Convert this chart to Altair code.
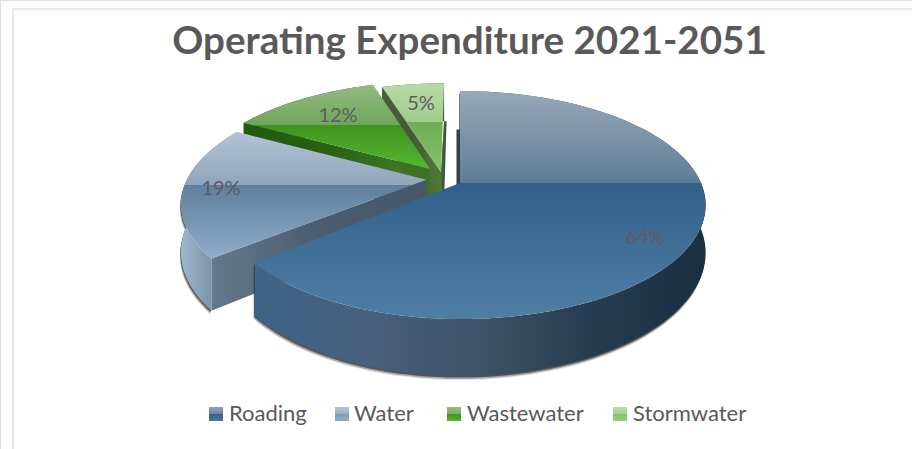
import math
import altair as alt
import pandas as pd

# Chart content
NAMES = ["Roading", "Water", "Wastewater", "Stormwater"]
SHARES = [64, 19, 12, 5]
TITLE = "Operating Expenditure 2021-2051"

# Perspective model of the tilted pie
APEX_X, APEX_Y = 460.0, 183.0
RX, RY = 241.0, 109.8
TILT = 0.193
DEPTH = 46.0
EXPLODE = {"Roading": (0.0, 0.0), "Water": (-0.14, -0.03),
           "Wastewater": (-0.127, -0.13), "Stormwater": (-0.08, -0.10)}
SQUEEZE = {"Roading": 0.97, "Water": 1.0, "Wastewater": 1.0, "Stormwater": 1.0}

# Top faces: upper stop pair / lower stop pair around the horizon line
TOP = {
    "Roading": ("#98a8ba", "#5f7d98", "#32608a", "#4f7ea5", 183),
    "Water": ("#b3c3d4", "#90a5bd", "#5f7f9c", "#8fadca", 185),
    "Wastewater": ("#93ba80", "#6ea65b", "#3f9420", "#57b630", 125),
    "Stormwater": ("#b9d9a7", "#a1cc8c", "#70ac55", "#86c16c", 122),
}
RIM = {
    "Roading": ["#3f6488", "#47607c", "#3f5369", "#253b4f", "#1a2f40"],
    "Water": ["#9db6cb", "#7e97ad", "#5c7083"],
    "Wastewater": ["#1f5a0f", "#2f6616"],
    "Stormwater": ["#4a5e3e", "#3f5636"],
}
EDGE = {
    "Water": ["#66798c", "#4a5c6e", "#46586a"],
    "Wastewater": ["#1c520c", "#2a6414", "#4a7e30"],
    "Stormwater": ["#4b5b40", "#46593a", "#4f7a35"],
}
SWATCH = {
    "Roading": ("#8ea3b8", "#6b86a0", "#32608a", "#4a7aa0"),
    "Water": ("#b3c3d4", "#9db0c5", "#7f9cb6", "#8fadca"),
    "Wastewater": ("#93ba80", "#7aad66", "#3f9420", "#57b630"),
    "Stormwater": ("#b9d9a7", "#a9d196", "#86c16c", "#99cd80"),
}
TEXT_COLOR = "#595959"
LABEL_COLOR = "#5f5a66"
LABEL_AT = {"Roading": (645, 238), "Water": (221, 189),
            "Wastewater": (338, 116), "Stormwater": (421, 104)}
LEGEND_AT = {"Roading": (209, 229), "Water": (335, 354),
             "Wastewater": (447, 467), "Stormwater": (613, 633)}


def project(u, v):
    d = 1 - TILT * v
    return APEX_X + RX * u / d, APEX_Y + RY * v / d


def lowered(u, v, dx=0.0):
    x, y = project(u, v)
    return x + dx, y + DEPTH / (1 - TILT * v)


def rim_points(start, end, off, squeeze):
    n = max(8, int((end - start) / 2))
    pts = []
    for i in range(n + 1):
        t = math.radians(start + (end - start) * i / n)
        u = math.sin(t)
        pts.append(((u * squeeze if u < 0 else u) + off[0], -math.cos(t) + off[1]))
    return pts


def feature(points):
    ring = [[round(x, 2), round(y, 2)] for x, y in points]
    ring.append(ring[0])
    return {"type": "Feature", "properties": {},
            "geometry": {"type": "Polygon", "coordinates": [ring]}}


def vertical_split(points, style):
    a, b, c, d, split = style
    ys = [p[1] for p in points]
    t = min(1.0, max(0.0, (split - min(ys)) / (max(ys) - min(ys))))
    return alt.LinearGradient(
        gradient="linear", x1=0, x2=0, y1=0, y2=1,
        stops=[alt.GradientStop(offset=0, color=a), alt.GradientStop(offset=t, color=b),
               alt.GradientStop(offset=t, color=c), alt.GradientStop(offset=1, color=d)])


def horizontal(colors):
    n = len(colors) - 1
    return alt.LinearGradient(
        gradient="linear", x1=0, x2=1, y1=0, y2=0,
        stops=[alt.GradientStop(offset=i / n, color=c) for i, c in enumerate(colors)])


def shape(points, **mark):
    return alt.Chart(alt.InlineData(values=[feature(points)])).mark_geoshape(
        strokeWidth=0, **mark
    ).project(type="identity", scale=1, translate=[0, 0])


# Angular extent of each slice, clockwise from twelve o'clock
spans = {}
acc = 0.0
for name, share in zip(NAMES, SHARES):
    spans[name] = (acc, acc + share * 3.6)
    acc += share * 3.6

layers = []

# Frame lines of the chart area
FRAME = "#e8e8e8"
layers.append(alt.Chart(pd.DataFrame({"a": [0]})).mark_rule(color=FRAME, strokeWidth=2).encode(
    x=alt.value(13), x2=alt.value(912), y=alt.value(9)))
layers.append(alt.Chart(pd.DataFrame({"a": [0]})).mark_rule(color=FRAME, strokeWidth=2).encode(
    x=alt.value(13), y=alt.value(9), y2=alt.value(449)))

# Painted back to front: each slice covers the wall of the one drawn before it
for name in ["Stormwater", "Wastewater", "Water", "Roading"]:
    start, end = spans[name]
    off = EXPLODE[name]
    rim = rim_points(start, end, off, SQUEEZE[name])
    top = [project(*off)] + [project(*p) for p in rim]
    side = [project(*p) for p in rim] + [lowered(*p) for p in reversed(rim)]

    # Soft contact shadow under the outer wall
    if name in ("Roading", "Water"):
        for (sx, sy, op) in [(-1, 4, 0.12), (-1, 3, 0.3), (-0.5, 1.5, 0.6)]:
            layers.append(shape([(x + sx, y + sy) for x, y in side], fill="#1c1c1c", opacity=op))

    # Cut wall turned towards the viewer
    if name in EDGE:
        p = rim[0]
        wall = [project(*off), project(*p), lowered(*p), lowered(*off)]
        layers.append(shape(wall, fill=horizontal(EDGE[name])))

    # Narrow strip of the far straight edge, seen below the rim height
    if name in ("Roading", "Stormwater"):
        p = rim[0] if name == "Roading" else rim[-1]
        dx = -3.5 if name == "Roading" else 2.5
        color = "#33404c" if name == "Roading" else "#46563e"
        wall = [lowered(*p), lowered(*p, dx), lowered(*off, dx), project(*off)]
        layers.append(shape(wall, fill=color))

    if name in ("Wastewater", "Stormwater"):
        p = rim[-1]
        layers.append(shape([project(*off), lowered(*p), lowered(*off)], fill="#3f7024"))

    layers.append(shape(side, fill=horizontal(RIM[name])))
    layers.append(shape(top, fill=vertical_split(top, TOP[name])))

# Percentage labels on the slices
for name, share in zip(NAMES, SHARES):
    x, y = LABEL_AT[name]
    layers.append(alt.Chart(pd.DataFrame({"label": [f"{share}%"]})).mark_text(
        font="Lato", fontSize=20, color=LABEL_COLOR, align="center", baseline="middle"
    ).encode(text="label:N", x=alt.value(x), y=alt.value(y)))

# Legend row
for name in NAMES:
    sx, tx = LEGEND_AT[name]
    a, b, c, d = SWATCH[name]
    fill = alt.LinearGradient(
        gradient="linear", x1=0, x2=0, y1=0, y2=1,
        stops=[alt.GradientStop(offset=0, color=a), alt.GradientStop(offset=0.5, color=b),
               alt.GradientStop(offset=0.5, color=c), alt.GradientStop(offset=1, color=d)])
    layers.append(alt.Chart(pd.DataFrame({"a": [0]})).mark_rect(fill=fill).encode(
        x=alt.value(sx), x2=alt.value(sx + 14), y=alt.value(407), y2=alt.value(421)))
    layers.append(alt.Chart(pd.DataFrame({"label": [name]})).mark_text(
        font="Lato", fontSize=22, color=TEXT_COLOR, align="left", baseline="alphabetic"
    ).encode(text="label:N", x=alt.value(tx), y=alt.value(421)))

chart = alt.layer(*layers).properties(
    width=912, height=449, padding=0, autosize="none",
    title=alt.TitleParams(TITLE, font="Lato", fontSize=38.6, fontWeight="bold", color=TEXT_COLOR,
                          anchor="middle", dx=13.5, offset=-53, dy=40, baseline="alphabetic"),
).configure_view(stroke=None).configure(background="white")

chart.save("out.html", embed_options={"renderer": "svg", "actions": False})
